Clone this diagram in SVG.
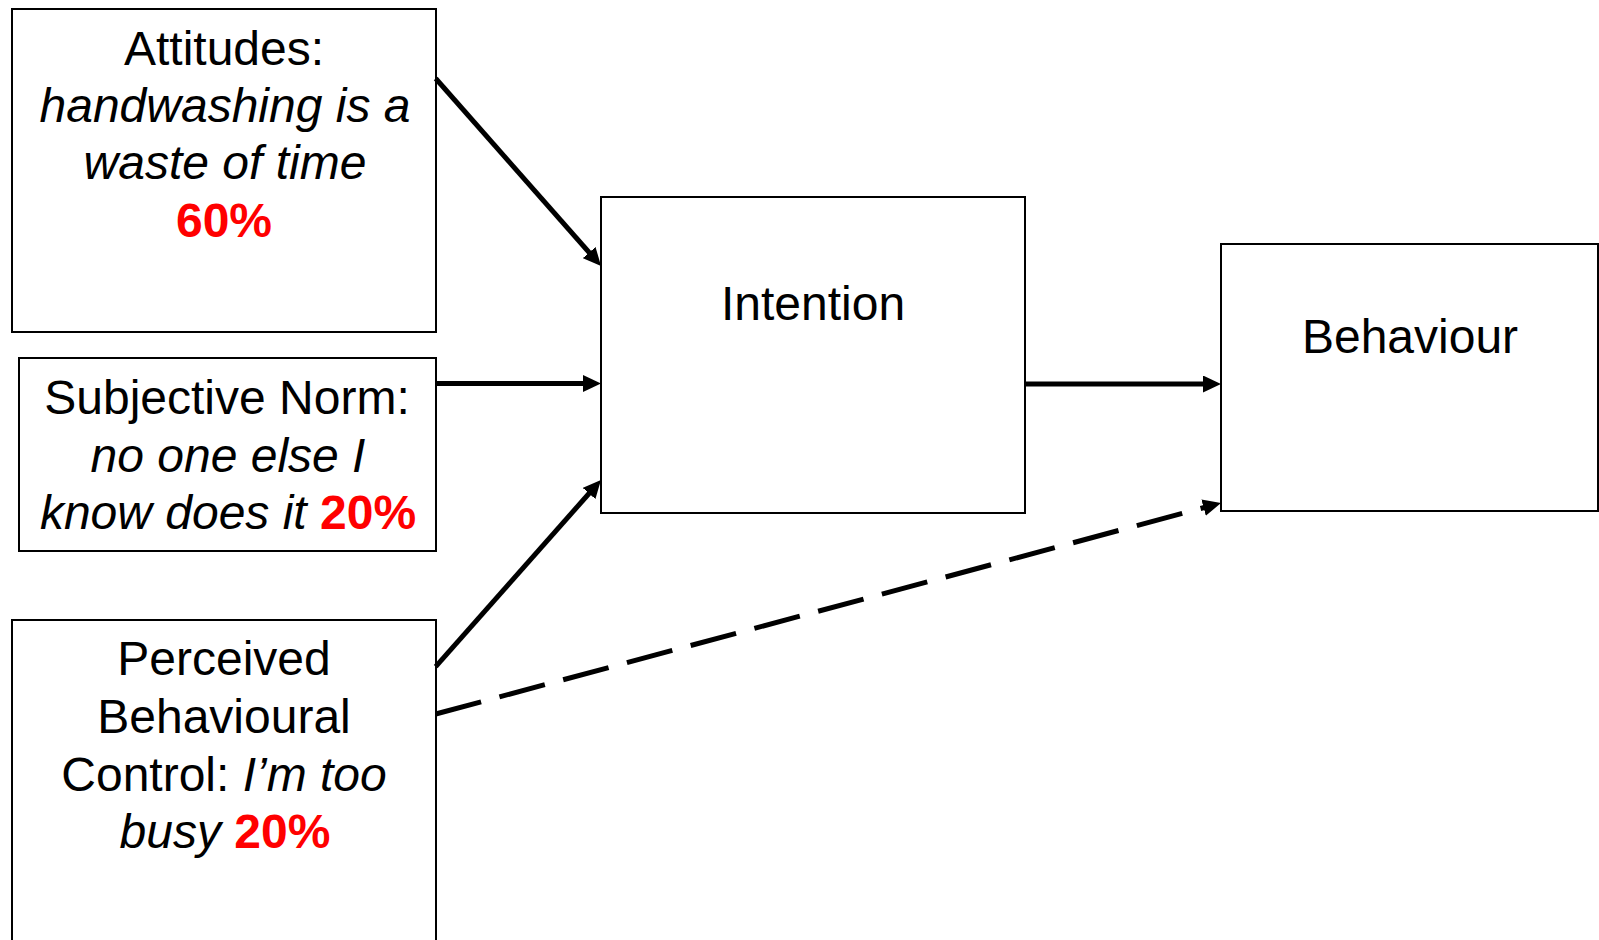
<svg xmlns="http://www.w3.org/2000/svg" width="1599" height="940" viewBox="0 0 1599 940">
  <style>
    .box { fill: #ffffff; stroke: #000000; stroke-width: 2; }
    .lbl { font-family: "Liberation Sans", Arial, sans-serif; font-size: 48px; fill: #000000; text-anchor: middle; }
    .it { font-style: italic; }
    .pct { font-weight: bold; fill: #ff0000; }
    .link { fill: none; stroke: #000000; stroke-width: 5; }
    .dash { stroke-dasharray: 47 19; }
  </style>
  <defs>
    <marker id="head" markerUnits="userSpaceOnUse" markerWidth="18" markerHeight="17" viewBox="0 0 18 17" refX="6" refY="8.5" orient="auto">
      <path d="M0,0 L18,8.5 L0,17 Z" fill="#000000"/>
    </marker>
  </defs>

  <rect width="1599" height="940" fill="#ffffff"/>

  <!-- predictor boxes -->
  <g id="attitudes">
    <rect class="box" x="12" y="9" width="424" height="323"/>
    <text class="lbl" x="224" y="65">Attitudes:</text>
    <text class="lbl it" x="225" y="122">handwashing is a</text>
    <text class="lbl it" x="225" y="179">waste of time</text>
    <text class="lbl pct" x="224" y="237">60%</text>
  </g>

  <g id="subjective-norm">
    <rect class="box" x="19" y="358" width="417" height="193"/>
    <text class="lbl" x="227" y="414">Subjective Norm:</text>
    <text class="lbl it" x="228" y="472">no one else I</text>
    <text class="lbl" x="228" y="529"><tspan class="it">know does it </tspan><tspan class="pct">20%</tspan></text>
  </g>

  <g id="perceived-control">
    <rect class="box" x="12" y="620" width="424" height="340"/>
    <text class="lbl" x="224" y="675">Perceived</text>
    <text class="lbl" x="224" y="733">Behavioural</text>
    <text class="lbl" x="224" y="791">Control: <tspan class="it">I’m too</tspan></text>
    <text class="lbl" x="225" y="848"><tspan class="it">busy </tspan><tspan class="pct">20%</tspan></text>
  </g>

  <!-- outcome boxes -->
  <g id="intention">
    <rect class="box" x="601" y="197" width="424" height="316"/>
    <text class="lbl" x="813" y="320">Intention</text>
  </g>

  <g id="behaviour">
    <rect class="box" x="1221" y="244" width="377" height="267"/>
    <text class="lbl" x="1410" y="353">Behaviour</text>
  </g>

  <!-- connectors -->
  <g id="connectors">
    <path class="link" d="M435.7,78.5 L593.1,257" marker-end="url(#head)"/>
    <path class="link" d="M436,383.5 L589,383.5" marker-end="url(#head)"/>
    <path class="link" d="M435.7,666.7 L593,489" marker-end="url(#head)"/>
    <path class="link" d="M1025,384 L1209,384" marker-end="url(#head)"/>
    <path class="link dash" d="M435.7,714 L1209.4,506.1" marker-end="url(#head)"/>
  </g>
</svg>
